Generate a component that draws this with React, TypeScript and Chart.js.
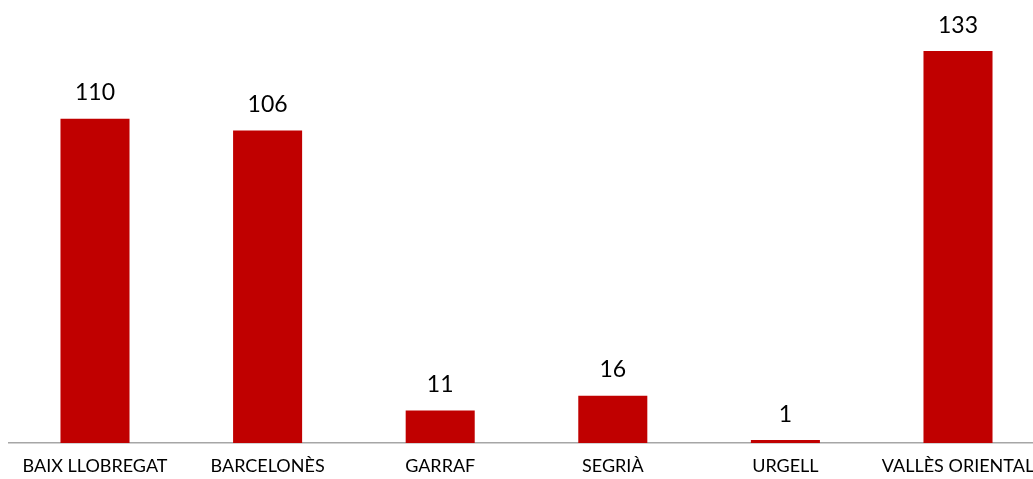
import React, { useEffect, useRef } from "react";
import { Chart, registerables } from "chart.js";

Chart.register(...registerables);

const categories = ["BAIX LLOBREGAT", "BARCELONÈS", "GARRAF", "SEGRIÀ", "URGELL", "VALLÈS ORIENTAL"];
const values = [110, 106, 11, 16, 1, 133];

const FONT = "Lato, 'Open Sans', sans-serif";

const dataLabels = {
  id: "dataLabels",
  afterDatasetsDraw(chart: any) {
    const ctx = chart.ctx;
    const meta = chart.getDatasetMeta(0);
    ctx.save();
    ctx.font = `23px ${FONT}`;
    ctx.fillStyle = "#000000";
    ctx.textAlign = "center";
    ctx.textBaseline = "alphabetic";
    meta.data.forEach((el: any, i: number) => {
      ctx.fillText(String(values[i]), el.x, el.y - 18.5);
    });
    ctx.restore();
  },
};

export default function App() {
  const ref = useRef<HTMLCanvasElement>(null);
  useEffect(() => {
    document.body.style.margin = "0";
    const chart = new Chart(ref.current!, {
      type: "bar",
      data: {
        labels: categories,
        datasets: [
          {
            data: values,
            backgroundColor: "#C00000",
            categoryPercentage: 1,
            barPercentage: 0.4,
          },
        ],
      },
      options: {
        animation: false,
        responsive: false,
        devicePixelRatio: 1,
        layout: { padding: { left: 8.7, right: 1100 - 1044.3, top: 30.4, bottom: 0 } },
        plugins: { legend: { display: false }, tooltip: { enabled: false } },
        scales: {
          x: {
            grid: { display: false, drawTicks: false },
            border: { display: true, color: "#a6a6a6", width: 1.5 },
            ticks: { color: "#000000", font: { family: FONT, size: 18 }, padding: 12, autoSkip: false, maxRotation: 0 },
            afterFit(scale: any) {
              scale.height = 36;
            },
          },
          y: { display: false, min: 0, max: 140 },
        },
      },
      plugins: [dataLabels],
    });
    return () => chart.destroy();
  }, []);
  return (
    <div style={{ width: 1033, height: 479, overflow: "hidden", position: "relative" }}>
      <canvas ref={ref} width={1100} height={479} style={{ display: "block" }} />
    </div>
  );
}
